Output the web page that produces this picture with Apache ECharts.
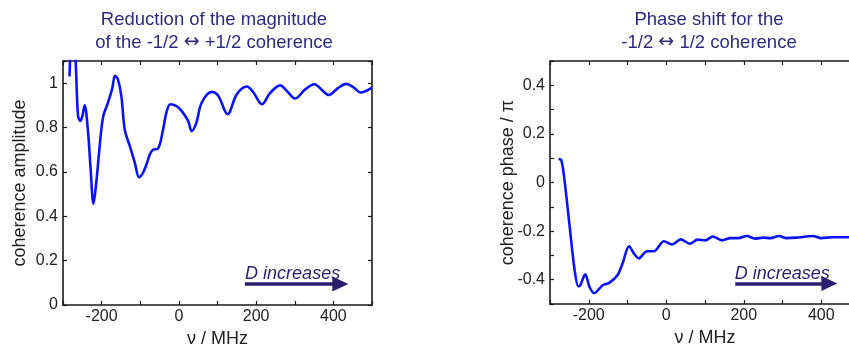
<!DOCTYPE html>
<html><head><meta charset="utf-8">
<script src="https://cdn.jsdelivr.net/npm/echarts@6/dist/echarts.min.js"></script>
<style>html,body{margin:0;padding:0;background:#fff}#c{width:849px;height:345px}</style>
</head><body><div id="c"></div>
<script>
// ---- data ----
const ampFreq = [-283,-280,-275,-270,-266,-261,-255,-250,-244,-235,-229,-221,-214,-205,-196,-184,-173,-165,-158,-149,-140,-127,-114,-103,-93,-84,-75,-67,-54,-41,-32,-22,-6,7,24,33,45,59,85,102,126,150,176,193,215,236,262,282,301,327,351,370,388,412,433,453,470,500];
const ampValue = [1.03,1.2,1.35,1.2,1.05,0.852,0.83,0.85,0.90,0.777,0.626,0.457,0.55,0.716,0.85,0.91,0.973,1.033,1.018,0.943,0.79,0.716,0.641,0.576,0.596,0.633,0.68,0.70,0.705,0.79,0.87,0.905,0.897,0.875,0.83,0.784,0.82,0.912,0.961,0.943,0.86,0.95,0.985,0.958,0.905,0.955,0.99,0.96,0.931,0.972,0.995,0.97,0.947,0.978,0.997,0.98,0.958,0.98];

const phaseFreq = [-278,-271,-263,-250,-237,-227,-222,-209,-198,-186,-164,-147,-126,-113,-96,-83,-70,-66,-49,-32,-6,15,37,61,81,101,120,144,165,186,208,229,250,269,291,310,336,378,400,430,470,500];
const phaseValue = [0.097,0.093,0.015,-0.17,-0.354,-0.427,-0.423,-0.378,-0.43,-0.455,-0.423,-0.413,-0.382,-0.334,-0.263,-0.293,-0.313,-0.307,-0.283,-0.283,-0.242,-0.255,-0.234,-0.252,-0.235,-0.238,-0.222,-0.238,-0.229,-0.229,-0.220,-0.231,-0.227,-0.229,-0.220,-0.229,-0.227,-0.220,-0.229,-0.225,-0.225,-0.225];

const xLabelTicks = [-200, 0, 200, 400];
const ampLabelTicks = [0, 0.2, 0.4, 0.6, 0.8, 1];
const phaseLabelTicks = [-0.4, -0.2, 0, 0.2, 0.4];

const ampArrow = [[171, 0.095], [418, 0.095]];
const phaseArrow = [[178, -0.416], [421, -0.416]];

const titleLeft = ['Reduction of the magnitude', 'of the -1/2 ', '\u2194', ' +1/2 coherence'];
const titleRight = ['Phase shift for the', '-1/2 ', '\u2194', ' 1/2 coherence'];
const arrowText = 'D increases';

// ---- styling ----
const FONT = '"Liberation Sans", Arial, Helvetica, sans-serif';
const TITLE_COLOR = '#2e2b7e';
const ARROW_COLOR = '#2a1e6e';
const LINE_COLOR = '#0a14f5';
const AX_COLOR = '#1a1a1a';

function zip(a, b) { return a.map((v, i) => [v, b[i]]); }
function near(v, list) { return list.some(t => Math.abs(t - v) < 1e-6); }
function fmtNum(v) { const r = Math.round(v * 10) / 10; return String(r); }

function xAxisDef(grid, pos, labels) {
  return {
    type: 'value', gridIndex: grid, position: pos, min: -300, max: 500, interval: 100,
    name: labels ? '\u03bd / MHz' : '', nameLocation: 'middle', nameGap: 25,
    nameTextStyle: { fontFamily: FONT, fontSize: 18, color: '#222' },
    axisLine: { show: true, onZero: false, lineStyle: { color: AX_COLOR, width: 1.6 } },
    axisTick: { show: true, inside: true, length: 4, lineStyle: { color: AX_COLOR, width: 1.2 } },
    axisLabel: {
      show: labels, margin: 4, fontFamily: FONT, fontSize: 16, color: '#222',
      showMinLabel: true, showMaxLabel: true,
      formatter: v => near(v, xLabelTicks) ? String(Math.round(v)) : ''
    },
    splitLine: { show: false }
  };
}
function yAxisDef(grid, pos, labels, min, max, interval, labelList, name, gap) {
  return {
    type: 'value', gridIndex: grid, position: pos, min: min, max: max, interval: interval,
    name: labels ? name : '', nameLocation: 'middle', nameGap: gap || 34, nameMoveOverlap: false,
    nameTextStyle: { fontFamily: FONT, fontSize: 18, color: '#222' },
    axisLine: { show: true, onZero: false, lineStyle: { color: AX_COLOR, width: 1.6 } },
    axisTick: { show: true, inside: true, length: 4, lineStyle: { color: AX_COLOR, width: 1.2 } },
    axisLabel: {
      show: labels, margin: 5, fontFamily: FONT, fontSize: 16, color: '#222',
      formatter: v => near(v, labelList) ? fmtNum(v) : ''
    },
    splitLine: { show: false }
  };
}
function arrowMark(pts) {
  return {
    silent: true, animation: false,
    symbol: ['none', 'triangle'], symbolSize: [15, 16],
    lineStyle: { color: ARROW_COLOR, width: 3.5, type: 'solid' },
    label: {
      show: true, position: 'insideMiddleTop', distance: 1, formatter: arrowText,
      fontFamily: FONT, fontSize: 18, fontStyle: 'italic', color: ARROW_COLOR
    },
    emphasis: { disabled: true },
    data: [[{ coord: pts[0] }, { coord: pts[1] }]]
  };
}
function titleGraphic(x, parts) {
  return {
    type: 'text', x: x, y: 8,
    style: {
      text: '{t|' + parts[0] + '}\n{t|' + parts[1] + '}{a|' + parts[2] + '}{t|' + parts[3] + '}',
      align: 'center', verticalAlign: 'top', fill: TITLE_COLOR,
      rich: {
        t: { fontFamily: FONT, fontSize: 18.5, fill: TITLE_COLOR, color: TITLE_COLOR, lineHeight: 23 },
        a: { fontFamily: '"DejaVu Sans", sans-serif', fontSize: 19, fill: TITLE_COLOR, color: TITLE_COLOR, lineHeight: 23 }
      }
    }
  };
}

const chart = echarts.init(document.getElementById('c'), null, { renderer: 'canvas' });
chart.setOption({
  animation: false,
  backgroundColor: '#fff',
  graphic: [titleGraphic(214, titleLeft), titleGraphic(709, titleRight)],
  grid: [
    { left: 63, top: 61, width: 309, height: 244, outerBoundsMode: 'none', containLabel: false },
    { left: 550, top: 61, width: 310, height: 243, outerBoundsMode: 'none', containLabel: false }
  ],
  xAxis: [
    xAxisDef(0, 'bottom', true), xAxisDef(0, 'top', false),
    xAxisDef(1, 'bottom', true), xAxisDef(1, 'top', false)
  ],
  yAxis: [
    yAxisDef(0, 'left', true, 0, 1.1, 0.2, ampLabelTicks, 'coherence amplitude', 34),
    yAxisDef(0, 'right', false, 0, 1.1, 0.2, ampLabelTicks, ''),
    yAxisDef(1, 'left', true, -0.5, 0.5, 0.1, phaseLabelTicks, 'coherence phase / \u03c0', 33),
    yAxisDef(1, 'right', false, -0.5, 0.5, 0.1, phaseLabelTicks, '')
  ],
  series: [
    {
      type: 'line', xAxisIndex: 0, yAxisIndex: 0, data: zip(ampFreq, ampValue),
      showSymbol: false, smooth: 0.35, clip: true,
      lineStyle: { color: LINE_COLOR, width: 2.6 }, emphasis: { disabled: true },
      markLine: arrowMark(ampArrow)
    },
    {
      type: 'line', xAxisIndex: 2, yAxisIndex: 2, data: zip(phaseFreq, phaseValue),
      showSymbol: false, smooth: 0.3, clip: true,
      lineStyle: { color: LINE_COLOR, width: 2.6 }, emphasis: { disabled: true },
      markLine: arrowMark(phaseArrow)
    }
  ]
});
</script>
</body></html>
